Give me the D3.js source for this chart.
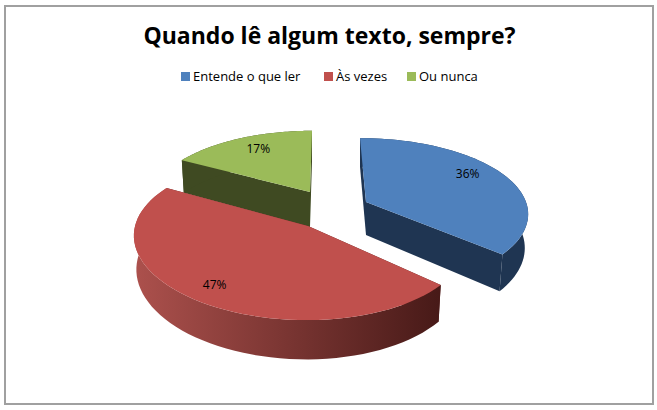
<!DOCTYPE html>
<html>
<head>
<meta charset="utf-8">
<script src="https://cdnjs.cloudflare.com/ajax/libs/d3/7.8.5/d3.min.js"></script>
<style>
html, body { margin: 0; padding: 0; background: #fff; }
svg { display: block; }
</style>
</head>
<body>
<script>
var width = 657;
var height = 410;

var title = "Quando lê algum texto, sempre?";
var categories = ["Entende o que ler", "Às vezes", "Ou nunca"];
var values = [36, 47, 17];
var colors = ["#4f81bd", "#c0504d", "#9bbb59"];
var sideColors = ["#1f3552", "#5a1f1d", "#3f4a22"];

// where each exploded slice sits, the chart is a fake 3d pie
var slices = [
    { apex: [366, 202], shift: -6, rx: 166, ry: 74, depth: 33, low: 0.98, skew: 0, labelF: 0.8, labelDx: -6, labelDy: -4 },
    { apex: [308, 226], shift: -8, rx: 164, ry: 79, depth: 33, low: 0.985, skew: 0.02, labelF: 0.8, labelDx: -2, labelDy: 0 },
    { apex: [310, 192], shift: 2, rx: 160, ry: 71, depth: 35, low: 0.985, skew: 0, labelF: 0.8, labelDx: 4, labelDy: 0 }
];
var perspective = 0.16;

var svg = d3.select("body").append("svg")
    .attr("width", width)
    .attr("height", height);

var defs = svg.append("defs");
var wallGrad = defs.append("linearGradient")
    .attr("id", "redWall")
    .attr("gradientUnits", "userSpaceOnUse")
    .attr("x1", 138).attr("x2", 438).attr("y1", 0).attr("y2", 0);
wallGrad.append("stop").attr("offset", "0%").attr("stop-color", "#ab504c");
wallGrad.append("stop").attr("offset", "100%").attr("stop-color", "#481a18");

svg.append("rect")
    .attr("x", 5).attr("y", 6)
    .attr("width", 648).attr("height", 398)
    .attr("fill", "#fff")
    .attr("stroke", "#a0a0a0")
    .attr("stroke-width", 2);

svg.append("text")
    .attr("x", 329.5).attr("y", 44)
    .attr("text-anchor", "middle")
    .style("font-family", "'Open Sans', sans-serif")
    .style("font-weight", "700")
    .style("font-size", "23px")
    .text(title);

// project an angle on the slice's circle to the screen
function project(s, angle, low) {
    var c = Math.cos(angle);
    var k = 1 / (1 + perspective * c);
    var dx = s.rx * Math.sin(angle) * k;
    return [
        s.apex[0] + s.shift + dx * (low ? s.low : 1),
        s.apex[1] - s.ry * c * k + s.skew * dx + (low ? s.depth * k : 0)
    ];
}

function arcPoints(s, a0, a1, low) {
    return d3.range(0, 61).map(function (i) {
        return project(s, a0 + (a1 - a0) * i / 60, low);
    });
}

var line = d3.line();
var pie = d3.pie().sort(null)(values);

var order = [2, 0, 1];
order.forEach(function (i) {
    var d = pie[i];
    var s = slices[i];
    var g = svg.append("g");
    var apexLow = [s.apex[0], s.apex[1] + s.depth];

    // cut faces first, then the outer wall, then the top
    [d.startAngle, d.endAngle].forEach(function (a) {
        g.append("path")
            .attr("d", line([s.apex, project(s, a, false), project(s, a, true), apexLow]) + "Z")
            .attr("fill", sideColors[i]);
    });

    g.append("path")
        .attr("d", line(arcPoints(s, d.startAngle, d.endAngle, false)
            .concat(arcPoints(s, d.endAngle, d.startAngle, true))) + "Z")
        .attr("fill", i == 1 ? "url(#redWall)" : sideColors[i]);

    g.append("path")
        .attr("d", line([s.apex].concat(arcPoints(s, d.startAngle, d.endAngle, false))) + "Z")
        .attr("fill", colors[i]);
});

// labels on top of all slices
pie.forEach(function (d, i) {
    var s = slices[i];
    var mid = (d.startAngle + d.endAngle) / 2;
    var p = project(s, mid, false);
    svg.append("text")
        .attr("x", s.apex[0] + (p[0] - s.apex[0]) * s.labelF + s.labelDx)
        .attr("y", s.apex[1] + (p[1] - s.apex[1]) * s.labelF + s.labelDy + 4)
        .attr("text-anchor", "middle")
        .style("font-family", "'Open Sans', sans-serif")
        .style("font-size", "12px")
        .text(d.value + "%");
});

var legendX = [181, 324, 407];
categories.forEach(function (name, i) {
    svg.append("rect")
        .attr("x", legendX[i]).attr("y", 72)
        .attr("width", 9).attr("height", 9)
        .attr("fill", colors[i]);
    svg.append("text")
        .attr("x", legendX[i] + 12).attr("y", 81)
        .style("font-family", "'Open Sans', sans-serif")
        .style("font-size", "13px")
        .text(name);
});
</script>
</body>
</html>
